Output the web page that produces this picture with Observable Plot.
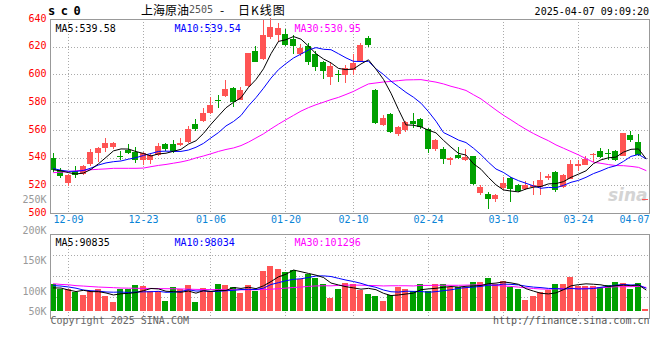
<!DOCTYPE html>
<html><head><meta charset="utf-8">
<script src="https://cdn.jsdelivr.net/npm/d3@7"></script>
<script src="https://cdn.jsdelivr.net/npm/@observablehq/plot@0.6"></script>
<style>
html,body{margin:0;padding:0;background:#fff;}
#wrap{position:relative;width:660px;height:360px;overflow:hidden;background:#fff;}
#wrap svg{position:absolute;left:0;top:0;}
.t{position:absolute;white-space:pre;}
</style></head><body>
<div id="wrap">
<div class="t" style="left:48px;top:4px;font:bold 12px 'DejaVu Sans Mono';letter-spacing:5.5px;line-height:14px;color:#000">sc0</div>
<div class="t" style="left:141px;top:3px;font:12px 'Noto Sans CJK SC';line-height:13px;color:#000">上海原油</div>
<div class="t" style="left:189px;top:4px;font:10px 'DejaVu Sans Mono';line-height:12px;color:#555">2505</div>
<div class="t" style="left:220px;top:3px;font:12px 'Noto Sans CJK SC';line-height:13px;color:#000">-</div>
<div class="t" style="left:238px;top:3px;font:12px 'Noto Sans CJK SC';line-height:13px;color:#000;letter-spacing:1px">日K线图</div>
<div class="t" style="right:11px;top:6px;font:10px 'DejaVu Sans Mono';line-height:11px;color:#000">2025-04-07 09:09:20</div>
</div>
<script>
const dates = ["12-05","12-06","12-09","12-10","12-11","12-12","12-13","12-16","12-17","12-18","12-19","12-20","12-23","12-24","12-25","12-26","12-27","12-30","12-31",
"01-02","01-03","01-06","01-07","01-08","01-09","01-10","01-13","01-14","01-15","01-16","01-17","01-20","01-21","01-22","01-23","01-24","01-27",
"02-05","02-06","02-07","02-10","02-11","02-12","02-13","02-14","02-17","02-18","02-19","02-20","02-21","02-24","02-25","02-26","02-27","02-28",
"03-03","03-04","03-05","03-06","03-07","03-10","03-11","03-12","03-13","03-14","03-17","03-18","03-19","03-20","03-21","03-24","03-25","03-26","03-27","03-28","03-31",
"04-01","04-02","04-03","04-07"];
const open = [539.8,531.2,521.9,530.0,528.3,535.5,543.3,547.1,547.4,541.4,
545.7,544.3,538.6,538.6,542.1,549.8,549.8,549.0,551.4,564.0,
566.4,572.4,581.7,584.3,590.2,581.9,591.4,616.9,611.2,627.1,
628.5,629.0,625.5,614.8,620.5,614.8,609.3,598.5,600.5,599.7,
603.3,609.5,626.0,589.0,563.6,571.2,556.9,560.0,566.4,567.6,
560.5,546.2,546.2,538.6,541.9,537.9,541.0,514.5,514.0,509.8,
518.3,525.5,520.5,517.1,518.8,518.8,525.0,529.5,518.8,524.8,
533.6,534.8,542.4,545.0,543.3,545.0,541.4,556.4,551.4,510.0];
const high = [543.1,532.6,527.8,533.6,534.5,546.2,547.9,554.3,551.5,544.8,
549.5,547.6,544.3,543.1,550.2,550.5,552.6,553.8,562.9,567.6,
575.5,583.6,585.5,595.7,590.7,590.7,615.7,620.7,639.0,641.0,
637.0,632.5,628.5,622.0,622.5,617.0,609.5,609.0,603.5,607.0,
614.5,622.8,627.5,589.8,570.7,571.9,562.9,566.4,572.4,568.8,
561.7,553.3,547.9,540.7,547.4,546.2,541.4,520.0,515.2,514.0,
526.0,526.0,521.2,522.9,522.9,529.5,527.9,530.0,528.3,538.3,
537.9,541.4,543.1,546.9,546.2,545.5,557.9,559.3,556.9,510.0];
const low = [529.3,525.0,519.3,525.2,527.1,533.6,537.1,544.3,546.2,537.9,
542.6,536.2,534.3,535.5,541.4,545.0,543.6,548.1,550.2,559.3,
566.0,571.7,576.0,583.6,576.4,581.2,591.0,608.8,610.5,625.5,
623.6,620.5,615.0,613.5,606.5,602.8,597.0,592.5,594.5,593.5,
599.8,609.0,619.5,564.0,563.1,557.4,555.7,558.1,561.7,560.5,
543.1,545.0,535.5,534.3,539.0,537.6,520.0,512.9,502.6,507.6,
516.4,508.1,515.2,516.4,512.9,512.9,523.6,515.2,518.1,524.3,
530.2,534.3,536.7,539.8,538.6,537.6,541.0,551.0,541.4,510.0];
const close = [530.7,526.4,527.6,527.1,534.0,543.8,547.1,550.5,550.5,541.0,
543.6,537.9,543.3,541.7,548.3,546.2,545.0,550.5,560.5,560.5,
572.4,577.9,580.7,589.8,580.2,589.0,615.2,609.3,628.5,634.3,
633.5,621.4,620.7,619.3,609.2,605.7,602.8,606.3,599.3,605.0,
608.1,621.0,621.2,565.2,568.3,558.1,562.4,565.7,564.0,562.4,
546.2,552.6,539.0,539.5,539.8,540.2,521.2,518.8,510.0,513.3,
521.7,517.1,515.7,520.5,520.0,524.0,526.9,516.4,527.6,535.5,
535.5,539.0,542.6,540.7,543.1,537.9,557.4,552.6,542.1,510.0];
const ma5 = [531.5,530.8,529.5,528.5,529.2,531.8,535.9,540.5,545.2,546.6,
546.5,544.7,543.3,541.5,543.0,543.5,544.9,546.3,550.1,552.5,
557.8,564.4,570.4,576.3,580.2,583.5,591.0,596.7,604.4,615.3,
624.2,625.4,627.7,625.8,620.8,615.3,611.5,608.7,604.7,603.8,
604.3,607.9,610.9,604.1,596.8,586.8,575.0,563.9,563.7,562.5,
560.1,558.2,552.8,547.9,543.4,542.2,535.9,531.9,526.0,520.7,
517.0,516.2,515.6,517.7,519.0,519.5,521.4,521.6,523.0,526.1,
528.4,530.8,536.0,538.7,540.2,540.7,544.3,546.3,546.6,539.6];
const ma10 = [532.4,531.2,530.5,530.4,531.0,532.8,535.0,536.5,537.4,537.9,
539.2,540.3,541.9,543.3,544.8,545.0,544.8,544.8,545.8,547.8,
550.6,554.6,558.4,563.2,566.4,570.7,577.7,583.6,590.4,597.7,
603.8,608.2,612.2,615.1,618.0,619.7,618.5,618.2,615.3,612.3,
609.8,609.7,609.8,604.4,600.3,595.5,591.5,587.4,583.9,579.6,
573.5,566.6,558.4,555.8,553.0,551.2,547.1,542.4,537.0,532.1,
529.6,526.1,523.7,521.8,519.9,518.2,518.8,518.6,520.3,522.5,
523.9,526.1,528.8,530.8,533.1,534.5,537.6,541.2,542.6,539.5];
const ma30 = [529.5,529.8,530.2,530.8,531.3,531.6,531.9,532.2,532.6,532.6,
532.6,532.6,532.8,533.8,534.7,535.4,536.3,537.2,538.4,540.1,
541.5,543.1,544.8,546.2,547.3,549.0,551.5,554.5,557.5,561.1,
564.5,567.7,570.8,573.9,576.4,578.5,580.3,582.2,583.8,585.9,
588.1,590.9,593.5,594.2,594.9,595.3,595.9,596.4,596.5,596.6,
595.7,594.8,593.5,591.8,590.4,588.8,585.7,582.7,578.7,574.7,
570.9,567.5,564.0,560.7,557.7,555.0,552.5,549.5,547.1,544.7,
542.3,539.6,537.0,536.2,535.3,534.6,534.5,534.0,533.3,531.0];
// daily volume, thousands of lots
const volume = [112.0,92.4,92.4,81.2,67.2,84.0,92.4,64.4,39.2,92.4,
92.4,109.2,105.0,84.0,84.0,43.4,100.8,92.4,109.2,39.2,
96.6,84.0,113.4,109.2,100.8,77.0,109.2,84.0,168.0,190.4,
176.4,163.8,172.2,133.0,154.0,140.0,114.8,56.0,92.4,117.6,
114.8,88.2,72.8,64.4,42.0,67.2,100.8,92.4,84.0,113.4,
84.0,113.4,113.4,100.8,100.8,100.8,121.8,121.8,138.6,113.4,
126.0,100.8,92.4,46.2,63.0,79.8,88.2,113.4,113.4,144.2,
105.0,105.0,105.0,100.8,109.2,121.8,117.6,92.4,117.6,8.4];
const vma5 = [99.2,98.4,90.2,83.8,89.0,83.4,83.4,77.8,69.4,74.5,
76.2,79.5,87.6,96.6,94.9,85.1,83.4,80.9,86.0,77.0,
87.6,84.3,88.5,88.5,100.8,96.9,101.9,96.0,107.8,125.7,
145.6,156.5,174.2,167.2,159.9,152.6,142.8,119.6,111.4,104.2,
99.1,93.8,97.2,91.6,76.4,66.9,69.4,73.4,77.3,91.6,
94.9,97.4,101.6,105.0,102.5,105.8,107.5,109.2,116.8,119.3,
124.3,120.1,114.2,95.8,85.7,76.4,73.9,78.1,91.6,107.8,
112.8,116.2,114.5,112.0,105.0,108.4,110.9,108.4,111.7,90.8];
const vma10 = [108.9,106.8,103.0,97.9,90.2,87.1,85.6,82.0,81.0,81.8,
79.8,81.5,82.7,83.0,84.7,80.6,81.5,84.3,91.3,86.0,
86.4,83.9,84.7,87.2,88.9,92.3,93.1,92.3,98.1,113.3,
121.2,129.2,135.1,137.5,142.8,149.1,149.7,146.9,139.3,132.0,
125.9,118.3,108.4,101.5,90.3,83.0,81.6,85.3,84.4,84.0,
80.9,83.4,87.5,91.1,97.0,100.4,102.5,105.4,110.9,110.9,
115.1,113.8,111.7,106.3,102.5,100.4,97.0,96.2,93.7,96.7,
94.6,95.1,96.3,101.8,106.4,110.6,113.6,111.4,111.9,98.0];
const vma30 = [116.5,113.7,112.1,108.6,106.8,104.7,102.7,101.4,100.1,98.6,
98.1,97.5,97.0,96.8,96.3,95.8,95.5,94.7,93.7,92.9,
92.4,91.9,91.7,91.4,91.1,91.1,91.1,91.5,92.5,93.7,
95.8,98.2,100.8,102.6,105.5,107.3,108.1,107.8,109.6,110.4,
111.2,110.5,109.4,108.7,107.3,108.1,108.1,108.1,107.3,109.8,
109.3,110.3,110.3,110.0,110.0,110.8,111.3,112.5,111.5,109.0,
107.3,105.2,102.5,99.6,96.6,94.6,93.7,95.6,96.3,97.2,
96.9,97.4,98.5,99.7,102.0,103.8,104.3,104.3,105.5,101.3];
const priceTicks = [500,520,540,560,580,600,620,640];
const dateTicks = ["12-09","12-23","01-06","01-20","02-10","02-24","03-10","03-24","04-07"];
const volTicks = [50,100,150,200,250];
const legendPrice = ["MA5:539.58","MA10:539.54","MA30:530.95"];
const legendVol = ["MA5:90835","MA10:98034","MA30:101296"];

const N = dates.length;
[open,high,low,close,ma5,ma10,ma30,volume,vma5,vma10,vma30].forEach((a,k)=>{ if(a.length!==N) console.error("len mismatch", k, a.length); });

const RED = "#ff5454", GREEN = "#00a000", GRID = "#aaaaaa";
const MONO = "DejaVu Sans Mono";
const candles = dates.map((d,i)=>({i, date:d, o:open[i], h:high[i], l:low[i], c:close[i], v:volume[i],
  col: close[i] >= open[i] ? RED : GREEN}));
const xDomain = [-0.4, N - 1 + 0.467];
const half = 0.4;
const tickIdx = dateTicks.map(t => dates.indexOf(t));
const series = (arr) => arr.map((v,i)=>({i, v}));
const dot = {stroke: GRID, strokeDasharray: "1,2", shapeRendering: "crispEdges"};
const common = {width: 660, marginLeft: 50, marginRight: 11, color: {type: "identity"},
  style: {background: "transparent", overflow: "visible"}};

const main = Plot.plot({
  ...common, height: 230, marginTop: 19, marginBottom: 17,
  x: {domain: xDomain, axis: null},
  y: {domain: [priceTicks[0], priceTicks[priceTicks.length-1]], axis: null},
  marks: [
    Plot.ruleY(priceTicks.slice(1, -1), dot),
    Plot.ruleX(tickIdx.slice(0, -1), dot),
    Plot.text(["sina"], {frameAnchor: "bottom-right", dx: -2, dy: -13, textAnchor: "end", fontSize: 17, fontWeight: "bold", fontStyle: "italic", fill: "#d4d4d4", fontFamily: "DejaVu Sans"}),
    Plot.ruleX(candles, {x: "i", y1: "l", y2: "h", stroke: "col", shapeRendering: "crispEdges"}),
    Plot.rect(candles, {x1: d => d.i - half, x2: d => d.i + half, y1: "o", y2: "c", fill: "col", shapeRendering: "crispEdges"}),
    Plot.ruleY(candles.filter(d => Math.abs(d.c - d.o) < 0.8), {x1: d => d.i - half, x2: d => d.i + half, y: "c", stroke: "col", shapeRendering: "crispEdges"}),
    Plot.line(series(ma30), {x: "i", y: "v", stroke: "#ff00ff", strokeWidth: 1}),
    Plot.line(series(ma10), {x: "i", y: "v", stroke: "#0000ff", strokeWidth: 1}),
    Plot.line(series(ma5), {x: "i", y: "v", stroke: "#000000", strokeWidth: 1}),
    Plot.frame({stroke: "#999", shapeRendering: "crispEdges"}),
    Plot.text([legendPrice[0]], {frameAnchor: "top-left", dx: 5, dy: 5, textAnchor: "start", fill: "#000", fontFamily: MONO, fontSize: 10}),
    Plot.text([legendPrice[1]], {frameAnchor: "top-left", dx: 124, dy: 5, textAnchor: "start", fill: "#0000ff", fontFamily: MONO, fontSize: 10}),
    Plot.text([legendPrice[2]], {frameAnchor: "top-left", dx: 244, dy: 5, textAnchor: "start", fill: "#ff00ff", fontFamily: MONO, fontSize: 10}),
    Plot.text(priceTicks, {y: d => d, text: d => String(d), frameAnchor: "left", dx: -4, dy: -1, textAnchor: "end", fill: "#ff0000", fontFamily: MONO, fontSize: 10}),
    Plot.text(dateTicks.slice(0, -1), {x: d => dates.indexOf(d), frameAnchor: "bottom", dy: 9, fill: "#0a84d6", fontFamily: MONO, fontSize: 10}),
    Plot.text(dateTicks.slice(-1), {frameAnchor: "bottom-right", dy: 9, textAnchor: "end", fill: "#0a84d6", fontFamily: MONO, fontSize: 10})
  ]
});

// volume panel: bars grow from 0
const vBot = -29.4, vTop = 323.4;
const vGrid = [0.25, 0.5, 0.75].map(f => vTop - f * (vTop - vBot));
const vol = Plot.plot({
  ...common, height: 360, marginTop: 234, marginBottom: 42,
  x: {domain: xDomain, axis: null},
  y: {domain: [vBot, vTop], axis: null},
  marks: [
    Plot.ruleY(vGrid, dot),
    Plot.ruleX(tickIdx.slice(0, -1), dot),
    Plot.rect(candles, {x1: d => d.i - half, x2: d => d.i + half, y1: () => 0, y2: "v", fill: "col", shapeRendering: "crispEdges"}),
    Plot.line(series(vma30), {x: "i", y: "v", stroke: "#ff00ff", strokeWidth: 1}),
    Plot.line(series(vma10), {x: "i", y: "v", stroke: "#0000ff", strokeWidth: 1}),
    Plot.line(series(vma5), {x: "i", y: "v", stroke: "#000000", strokeWidth: 1}),
    Plot.frame({stroke: "#999", shapeRendering: "crispEdges"}),
    Plot.text([legendVol[0]], {frameAnchor: "top-left", dx: 5, dy: 4, textAnchor: "start", fill: "#000", fontFamily: MONO, fontSize: 10}),
    Plot.text([legendVol[1]], {frameAnchor: "top-left", dx: 124, dy: 4, textAnchor: "start", fill: "#0000ff", fontFamily: MONO, fontSize: 10}),
    Plot.text([legendVol[2]], {frameAnchor: "top-left", dx: 244, dy: 4, textAnchor: "start", fill: "#ff00ff", fontFamily: MONO, fontSize: 10}),
    Plot.text(["Copyright 2025 SINA.COM"], {frameAnchor: "bottom-left", dy: 5, textAnchor: "start", fill: "#666", fontFamily: MONO, fontSize: 10}),
    Plot.text(["http://finance.sina.com.cn"], {frameAnchor: "bottom-right", dy: 5, textAnchor: "end", fill: "#555", fontFamily: MONO, fontSize: 10})
  ]
});

// the site's volume axis labels use their own spacing (evenly stepped, clamped at the panel foot)
const labelFloor = 67;
const volLabels = Plot.plot({
  ...common, height: 360, marginTop: 199.5, marginBottom: 8,
  x: {domain: xDomain, axis: null},
  y: {domain: [0, 250], axis: null},
  marks: [
    Plot.text(volTicks, {y: d => Math.max(d, labelFloor), text: d => d + "K", frameAnchor: "left", dx: -4, textAnchor: "end", fill: "#999", fontFamily: MONO, fontSize: 10})
  ]
});
const wrap = document.getElementById("wrap");
wrap.prepend(volLabels);
wrap.prepend(vol);
wrap.prepend(main);
</script>
</body></html>
